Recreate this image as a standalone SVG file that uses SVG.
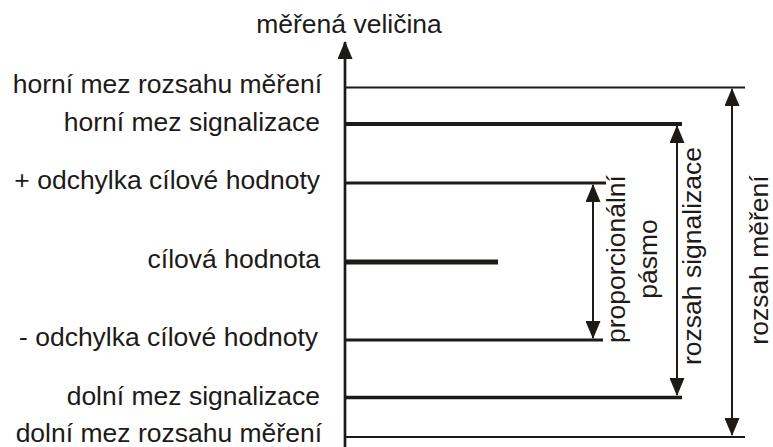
<svg xmlns="http://www.w3.org/2000/svg" width="773" height="447" viewBox="0 0 773 447">
<style>
text{font-family:"Liberation Sans",Arial,sans-serif;font-size:26.5px;fill:#1d1a18}
.l{text-anchor:end}
.v{text-anchor:middle}
.ln{stroke:#1d1a18;fill:none}
</style>
<defs>
<marker id="ah" viewBox="0 0 18 15" refX="17" refY="7.5" markerWidth="18" markerHeight="15" markerUnits="userSpaceOnUse" orient="auto-start-reverse">
<path d="M0,0 L18,7.5 L0,15 z" fill="#1d1a18"/>
</marker>
</defs>
<rect width="773" height="447" fill="#fff"/>
<g id="axis">
<line class="ln" x1="345" y1="447" x2="345" y2="42" stroke-width="2.7" marker-end="url(#ah)"/>
<text x="349" y="33" class="v">měřená veličina</text>
</g>
<g id="horni-rozsah">
<line class="ln" x1="345" y1="87.5" x2="745" y2="87.5" stroke-width="2"/>
<text x="322" y="93" class="l">horní mez rozsahu měření</text>
</g>
<g id="horni-signalizace">
<line class="ln" x1="345" y1="124" x2="682" y2="124" stroke-width="4"/>
<text x="320" y="131" class="l">horní mez signalizace</text>
</g>
<g id="plus-odchylka">
<line class="ln" x1="345" y1="183" x2="606" y2="183" stroke-width="3"/>
<text x="320" y="189" class="l">+ odchylka cílové hodnoty</text>
</g>
<g id="cilova">
<line class="ln" x1="345" y1="262" x2="498" y2="262" stroke-width="5"/>
<text x="320" y="268" class="l">cílová hodnota</text>
</g>
<g id="minus-odchylka">
<line class="ln" x1="345" y1="340" x2="603" y2="340" stroke-width="3"/>
<text x="318" y="346" class="l">- odchylka cílové hodnoty</text>
</g>
<g id="dolni-signalizace">
<line class="ln" x1="345" y1="397.5" x2="682" y2="397.5" stroke-width="3.3"/>
<text x="320" y="405" class="l">dolní mez signalizace</text>
</g>
<g id="dolni-rozsah">
<line class="ln" x1="345" y1="437" x2="745" y2="437" stroke-width="2"/>
<text x="322" y="441.5" class="l">dolní mez rozsahu měření</text>
</g>
<g id="connectors">
<line class="ln" x1="593" y1="185" x2="593" y2="338" stroke-width="2" marker-start="url(#ah)" marker-end="url(#ah)"/>
<line class="ln" x1="677" y1="126" x2="677" y2="395" stroke-width="2" marker-start="url(#ah)" marker-end="url(#ah)"/>
<line class="ln" x1="732" y1="89" x2="732" y2="435" stroke-width="2" marker-start="url(#ah)" marker-end="url(#ah)"/>
</g>
<g id="label-proporcionalni">
<text class="v" transform="translate(625,259) rotate(-90)">proporcionální</text>
<text class="v" transform="translate(657,259) rotate(-90)">pásmo</text>
</g>
<g id="label-rozsah-signalizace">
<text class="v" transform="translate(701,256) rotate(-90)">rozsah signalizace</text>
</g>
<g id="label-rozsah-mereni">
<text class="v" transform="translate(768,260) rotate(-90)">rozsah měření</text>
</g>
</svg>
